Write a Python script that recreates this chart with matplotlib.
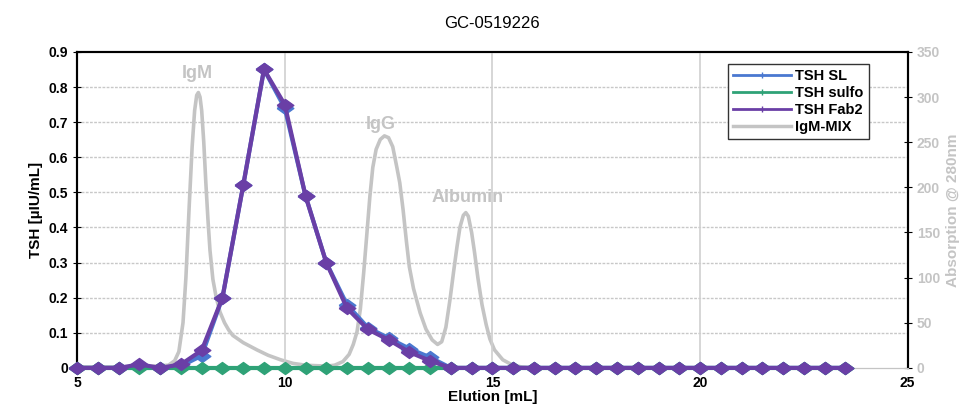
import numpy as np
import matplotlib.pyplot as plt
from matplotlib.lines import Line2D

plt.rcParams['font.family'] = ['Liberation Sans', 'DejaVu Sans']

# fraction volumes (0.5 mL steps)
elution = np.arange(5.0, 24.0, 0.5)

tsh_fab2 = [0, 0, 0, 0.01, 0, 0.01, 0.05, 0.20, 0.52, 0.85, 0.75, 0.49, 0.30, 0.17,
            0.11, 0.08, 0.045, 0.02] + [0] * 20
tsh_sl = [0, 0, 0, 0.005, 0, 0.005, 0.035, 0.20, 0.52, 0.85, 0.74, 0.49, 0.30, 0.18,
          0.115, 0.085, 0.055, 0.03] + [0] * 20
tsh_sulfo = [0] * 38

# IgM-MIX absorption trace (right axis)
abs_x = [5.0, 6.5, 7.2, 7.35, 7.45, 7.55, 7.62, 7.7, 7.77, 7.83, 7.88, 7.92, 7.96, 8.0,
         8.05, 8.1, 8.15, 8.2, 8.27, 8.35, 8.44, 8.55, 8.65, 8.75, 9.0, 9.33, 9.6, 9.9,
         10.2, 10.5, 11.0, 11.2, 11.4, 11.55, 11.65, 11.74, 11.82, 11.9, 11.98, 12.05,
         12.12, 12.2, 12.3, 12.4, 12.5, 12.6, 12.7, 12.77, 12.85, 12.93, 13.0, 13.1,
         13.26, 13.4, 13.55, 13.68, 13.78, 13.88, 13.98, 14.07, 14.15, 14.22, 14.3,
         14.36, 14.42, 14.5, 14.57, 14.65, 14.75, 14.85, 14.94, 15.05, 15.25, 15.45,
         15.7, 16.0, 23.5]
abs_y = [1, 1, 3, 8, 18, 50, 100, 180, 245, 285, 302, 305, 300, 285,
         250, 205, 165, 130, 98, 78, 62, 50, 42, 36, 28, 20, 14, 9,
         5, 3, 2, 3, 7, 15, 26, 40, 65, 105, 150, 190,
         222, 242, 253, 257, 255, 245, 222, 205, 175, 140, 112, 88,
         61, 43, 31, 26, 29, 45, 76, 108, 135, 156, 169,
         172, 168, 150, 128, 100, 70, 48, 32, 20, 9, 4,
         1, 0, 0]

c_sl = '#4a78d0'
c_sulfo = '#2fa277'
c_fab2 = '#6a3fa6'
c_gray = '#c4c4c4'

# wide diamond like the original spreadsheet marker
wide_diamond = [(-1, 0), (0, 0.72), (1, 0), (0, -0.72), (-1, 0)]

fig = plt.figure(figsize=(9.76, 4.12), dpi=100)
ax = fig.add_axes([0.079, 0.107, 0.851, 0.767])
ax2 = ax.twinx()
ax.set_zorder(ax2.get_zorder() + 1)
ax.patch.set_visible(False)

ax2.plot(abs_x, abs_y, color=c_gray, lw=2.6, zorder=1, solid_joinstyle='round')
ax2.set_ylim(0, 350)
ax2.set_yticks(np.arange(0, 351, 50))
ax2.set_ylabel('Absorption @ 280nm', color=c_gray, fontweight='bold', fontsize=11)
ax2.tick_params(axis='y', colors='black', labelcolor=c_gray, direction='inout', length=6, labelsize=10)
for lab in ax2.get_yticklabels():
    lab.set_fontweight('bold')

ax2.text(7.89, 326, 'IgM', color=c_gray, fontsize=13, fontweight='bold', ha='center', va='center')
ax2.text(12.3, 270, 'IgG', color=c_gray, fontsize=13, fontweight='bold', ha='center', va='center')
ax2.text(14.4, 189, 'Albumin', color=c_gray, fontsize=13, fontweight='bold', ha='center', va='center')

ax.plot(elution, tsh_sl, color=c_sl, lw=3, marker=wide_diamond, ms=12, zorder=3, clip_on=False)
ax.plot(elution, tsh_sulfo, color=c_sulfo, lw=3, marker=wide_diamond, ms=12, zorder=3, clip_on=False)
ax.plot(elution, tsh_fab2, color=c_fab2, lw=3, marker=wide_diamond, ms=12, zorder=4, clip_on=False)

ax.set_xlim(5, 25)
ax.set_ylim(0, 0.9)
ax.set_xticks([5, 10, 15, 20, 25])
ax.set_yticks(np.arange(0, 0.91, 0.1))
ax.set_yticklabels(['0'] + ['%.1f' % v for v in np.arange(0.1, 0.91, 0.1)])
ax.tick_params(axis='y', direction='inout', length=6, labelsize=10)
ax.tick_params(axis='x', length=0, labelsize=10, pad=6)
for lab in ax.get_xticklabels() + ax.get_yticklabels():
    lab.set_fontweight('bold')

for v in np.arange(0.1, 0.85, 0.1):
    ax.axhline(v, color='#c8c8c8', lw=1, ls=(0, (2, 1)), zorder=0)
for v in [10, 15, 20]:
    ax.axvline(v, color='#d0d0d0', lw=1.2, zorder=0)

for sp in ['top', 'left', 'right']:
    ax.spines[sp].set_linewidth(1.5)
    ax2.spines[sp].set_linewidth(1.5)
ax.spines['bottom'].set_color(c_gray)
ax2.spines['bottom'].set_color(c_gray)

ax.set_xlabel('Elution [mL]', fontweight='bold', fontsize=11, labelpad=0)
ax.set_ylabel('TSH [\u00b5IU/mL]', fontweight='bold', fontsize=11)
ax.set_title('GC-0519226', fontsize=12, pad=17)

handles = [
    Line2D([], [], color=c_sl, lw=2, marker='|', ms=5),
    Line2D([], [], color=c_sulfo, lw=2, marker='|', ms=5),
    Line2D([], [], color=c_fab2, lw=2, marker='|', ms=5),
    Line2D([], [], color=c_gray, lw=2.5),
]
leg = ax.legend(handles, ['TSH SL', 'TSH sulfo', 'TSH Fab2', 'IgM-MIX'],
                loc='upper right', bbox_to_anchor=(0.962, 0.985), fancybox=False,
                framealpha=1, edgecolor='#333333', prop={'weight': 'bold', 'size': 10.5},
                handlelength=4, borderpad=0.35, labelspacing=0.2, handletextpad=0.3)
leg.get_frame().set_linewidth(1)

fig.savefig('out.png', dpi=100)
